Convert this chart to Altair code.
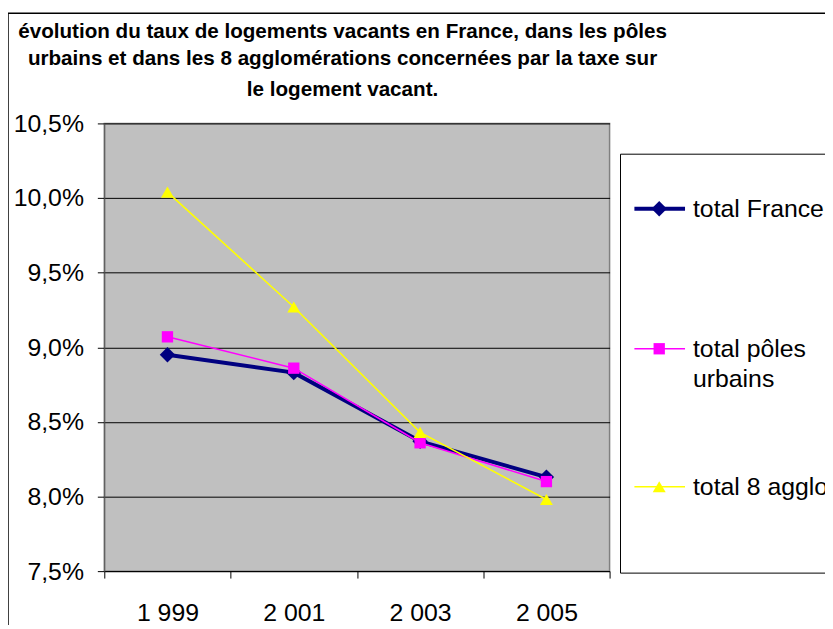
import altair as alt
import pandas as pd

# ---- data ----
years = ["1 999", "2 001", "2 003", "2 005"]
series_names = ["total France", "total pôles urbains", "total 8 agglo"]
total_france = [0.0895, 0.0883, 0.0837, 0.0813]
total_poles = [0.0907, 0.0886, 0.0836, 0.0810]
total_agglo = [0.1004, 0.0927, 0.0843, 0.0798]
series_values = [total_france, total_poles, total_agglo]

colors = ["#000080", "#FF00FF", "#FFFF00"]
shapes = ["diamond", "square", "triangle-up"]
stroke_widths = [4, 1.6, 1.6]
marker_sizes = [240, 130, 170]

title_lines = [
    "évolution du taux de logements vacants en France, dans les pôles",
    "urbains et dans les 8 agglomérations concernées par la taxe sur",
    "le logement vacant.",
]
legend_lines = [["total France"], ["total pôles", "urbains"], ["total 8 agglo"]]

FONT = "Liberation Sans"
W, H = 509, 451

rows = []
for name, vals in zip(series_names, series_values):
    for yr, v in zip(years, vals):
        rows.append({"series": name, "year": yr, "value": v})
df = pd.DataFrame(rows)

x = alt.X("year:N", sort=years, title=None,
          scale=alt.Scale(paddingInner=0, paddingOuter=0),
          axis=alt.Axis(tickBand="extent", labelAngle=0, labelFontSize=25,
                        labelFont=FONT, labelColor="black", labelPadding=23,
                        tickSize=7, tickColor="black", domainColor="black",
                        grid=False))
y = alt.Y("value:Q", title=None,
          scale=alt.Scale(domain=[0.075, 0.105], nice=False, zero=False),
          axis=alt.Axis(values=[0.075, 0.08, 0.085, 0.09, 0.095, 0.10, 0.105],
                        labelExpr="replace(format(datum.value, '.1%'), '.', ',')",
                        labelFontSize=25, labelFont=FONT, labelColor="black",
                        labelPadding=14, tickSize=7, tickColor="black",
                        domainColor="#555555", gridColor="black",
                        gridOpacity=1, gridWidth=1))

# outer chart frame
frame = alt.Chart(pd.DataFrame({"a": [0]})).mark_rect(
    fill="white", fillOpacity=0, stroke="black", strokeWidth=1.5
).encode(x=alt.value(-97), x2=alt.value(800), y=alt.value(-111), y2=alt.value(700))

# legend box
legend_box = alt.Chart(pd.DataFrame({"a": [0]})).mark_rect(
    fill="white", stroke="black", strokeWidth=1
).encode(x=alt.value(520), x2=alt.value(800), y=alt.value(31), y2=alt.value(453))

# title text
title_layers = []
title_y = [-92, -65, -34]
for line, ty in zip(title_lines, title_y):
    title_layers.append(
        alt.Chart(pd.DataFrame({"t": [line]})).mark_text(
            font=FONT, fontSize=20.8, fontWeight="bold", align="center",
            baseline="middle", color="black"
        ).encode(text="t:N", x=alt.value(240), y=alt.value(ty))
    )

# series
series_layers = []
for name, col, shp, sw, ms in zip(series_names, colors, shapes, stroke_widths, marker_sizes):
    base = alt.Chart(df).transform_filter(alt.datum.series == name)
    series_layers.append(base.mark_line(color=col, strokeWidth=sw).encode(x=x, y=y))
    series_layers.append(base.mark_point(shape=shp, color=col, filled=True,
                                         size=ms, opacity=1).encode(x=x, y=y))

# legend entries
legend_layers = []
legend_sym_y = [86, 227, 366]
for lines, ly, col, shp, sw, ms in zip(legend_lines, legend_sym_y, colors, shapes,
                                       stroke_widths, marker_sizes):
    d = pd.DataFrame({"a": [0]})
    legend_layers.append(alt.Chart(d).mark_rule(color=col, strokeWidth=sw).encode(
        x=alt.value(534), x2=alt.value(585), y=alt.value(ly)))
    legend_layers.append(alt.Chart(d).mark_point(shape=shp, color=col, filled=True,
                                                 size=ms, opacity=1).encode(
        x=alt.value(559), y=alt.value(ly)))
    for i, txt in enumerate(lines):
        legend_layers.append(alt.Chart(pd.DataFrame({"t": [txt]})).mark_text(
            font=FONT, fontSize=25, align="left", baseline="middle", color="black"
        ).encode(text="t:N", x=alt.value(593), y=alt.value(ly + i * 31)))

chart = alt.layer(
    frame, *series_layers, legend_box, *legend_layers, *title_layers
).properties(
    width=W, height=H,
    autosize=alt.AutoSizeParams(type="none"),
    padding={"left": 97, "top": 114, "right": 217, "bottom": 52},
    background="white",
).configure_view(
    fill="#C0C0C0", stroke="#808080", strokeWidth=1.5
)

chart.save("out.html", embed_options={"renderer": "svg", "actions": False})
